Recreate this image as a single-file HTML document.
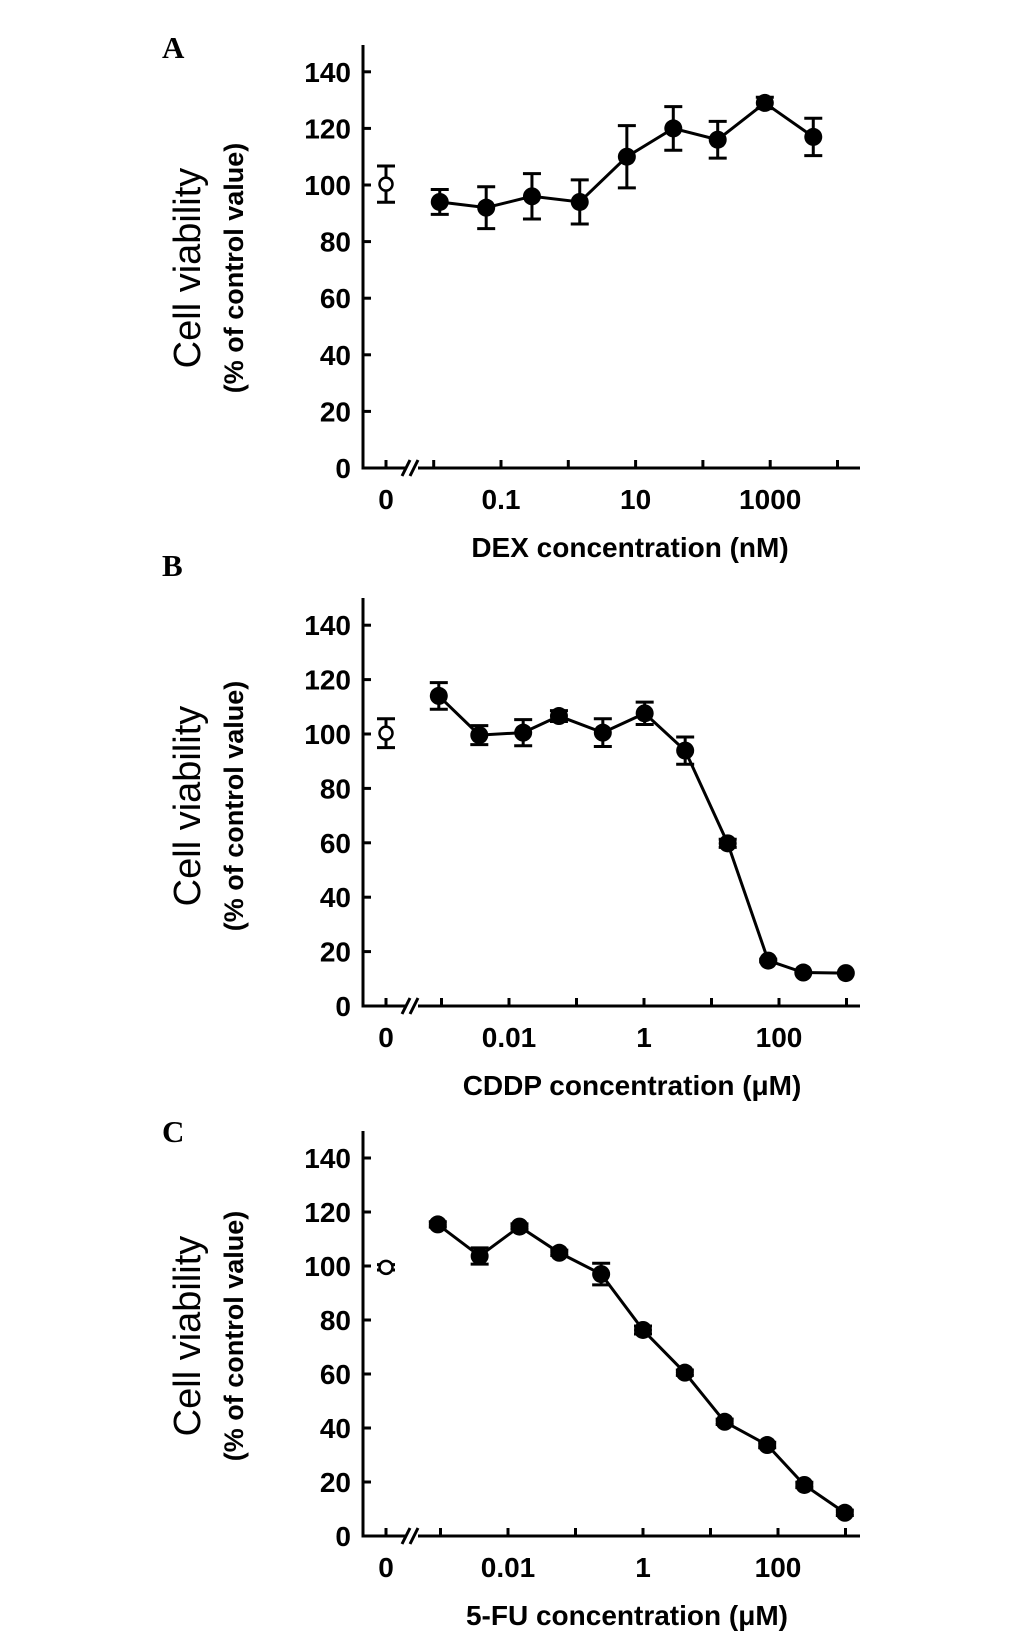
<!DOCTYPE html>
<html><head><meta charset="utf-8"><style>
html,body{margin:0;padding:0;background:#fff;}
svg{display:block;font-family:"Liberation Sans",Arial,sans-serif;}
</style></head><body>
<svg id="fig" width="1033" height="1637" viewBox="0 0 1033 1637" xmlns="http://www.w3.org/2000/svg"></svg>
<script>
// Panel A (DEX)
const dexLogConc = [-1.91, -1.22, -0.54, 0.17, 0.87, 1.56, 2.22, 2.92, 3.64];
const dexValues = [94, 92, 96, 94, 110, 120, 116, 129, 117];
const dexErrors = [4.4, 7.4, 8, 7.8, 11, 7.7, 6.5, 2, 6.6];
const dexControl = [100.3, 6.4];
const dexTickLabels = ["0.1", "10", "1000"];
const dexTickLogs = [-1, 1, 3];
// Panel B (CDDP)
const cddpLogConc = [-3.04, -2.44, -1.79, -1.26, -0.61, 0.01, 0.61, 1.24, 1.84, 2.36, 2.99];
const cddpValues = [114, 99.6, 100.5, 106.6, 100.5, 107.6, 93.9, 59.8, 16.7, 12.3, 12.1];
const cddpErrors = [4.9, 3.5, 4.8, 2, 5.1, 4.1, 5, 1.5, 0.5, 0, 0];
const cddpControl = [100.3, 5.3];
const cddpTickLabels = ["0.01", "1", "100"];
const cddpTickLogs = [-2, 0, 2];
// Panel C (5-FU)
const fuLogConc = [-3.04, -2.42, -1.83, -1.24, -0.62, 0, 0.62, 1.21, 1.84, 2.39, 2.99];
const fuValues = [115.4, 103.7, 114.6, 104.9, 97, 76.3, 60.5, 42.3, 33.7, 18.9, 8.6];
const fuErrors = [1, 3, 1, 1, 4, 1.5, 1, 1, 1, 1, 1];
const fuControl = [99.5, 1];
const fuTickLabels = ["0.01", "1", "100"];
const fuTickLogs = [-2, 0, 2];
const yTickValues = [0, 20, 40, 60, 80, 100, 120, 140];

const NS = "http://www.w3.org/2000/svg";
const svg = document.getElementById("fig");
function mk(tag, attrs, parent, text) {
  const e = document.createElementNS(NS, tag);
  for (const k in attrs) e.setAttribute(k, attrs[k]);
  if (text !== undefined) e.textContent = text;
  (parent || svg).appendChild(e);
  return e;
}

function panel(cfg, logs, vals, errs, ctrl, tLabels, tLogs) {
  const g = mk("g", {});
  
  
  const ax = 363, x0 = 386, xEnd = 860;
  const y = v => cfg.y0 - v * cfg.ppu;
  const x = l => cfg.xRef + (l - cfg.lRef) * cfg.dec;
  const L = mk("text", {x: 162, y: cfg.letterY, "font-family": "'Liberation Serif',serif", "font-weight": "bold", "font-size": 31}, g, cfg.letter);
  
  
  const ya = mk("line", {x1: ax, y1: cfg.top, x2: ax, y2: cfg.y0 + 1.5, stroke: "#000", "stroke-width": 3}, g);
  
  
  yTickValues.forEach(v => {
    const t = mk("line", {x1: ax, y1: y(v), x2: ax + 8, y2: y(v), stroke: "#000", "stroke-width": 3}, g);
    
    
    const tl = mk("text", {x: 351, y: y(v) + 10, "text-anchor": "end", "font-size": 28, "font-weight": "bold"}, g, String(v));
    
    
  });
  const brk = 412;
  const xa1 = mk("line", {x1: ax - 1.5, y1: cfg.y0, x2: brk - 6, y2: cfg.y0, stroke: "#000", "stroke-width": 3}, g);
  
  
  const xa2 = mk("line", {x1: brk + 6, y1: cfg.y0, x2: xEnd, y2: cfg.y0, stroke: "#000", "stroke-width": 3}, g);
  
  
  [-6, 2].forEach(d => {
    const b = mk("line", {x1: brk + d - 4, y1: cfg.y0 + 8, x2: brk + d + 4, y2: cfg.y0 - 8, stroke: "#000", "stroke-width": 3}, g);
    
    
  });
  const xt = [x0];
  for (let l = cfg.firstDec; x(l) < xEnd - 5; l++) xt.push(x(l));
  xt.forEach(px => {
    const t = mk("line", {x1: px, y1: cfg.y0, x2: px, y2: cfg.y0 - 8, stroke: "#000", "stroke-width": 3}, g);
    
    
  });
  const z = mk("text", {x: x0, y: cfg.y0 + 41, "text-anchor": "middle", "font-size": 28, "font-weight": "bold"}, g, "0");
  
  
  tLabels.forEach((s, i) => {
    const t = mk("text", {x: x(tLogs[i]), y: cfg.y0 + 41, "text-anchor": "middle", "font-size": 28, "font-weight": "bold"}, g, s);
    
    
  });
  const xtl = mk("text", {x: cfg.xtX, y: cfg.y0 + 89, "text-anchor": "middle", "font-size": 28, "font-weight": "bold"}, g, cfg.xTitle);
  
  
  const cy = cfg.y0 - 200;
  const yt1 = mk("text", {x: 0, y: 0, "text-anchor": "middle", "font-size": 38, transform: `translate(200,${cy}) rotate(-90)`}, g, "Cell viability");
  
  
  const yt2 = mk("text", {x: 0, y: 0, "text-anchor": "middle", "font-size": 27, "font-weight": "bold", transform: `translate(243,${cy}) rotate(-90)`}, g, "(% of control value)");
  
  
  const pts = logs.map((l, i) => x(l) + "," + y(vals[i])).join(" ");
  const pl = mk("polyline", {points: pts, fill: "none", stroke: "#000", "stroke-width": 3}, g);
  
  
  function errbar(px, v, e) {
    if (e <= 0.2) return;
    const eg = mk("path", {d: `M${px},${y(v + e)}V${y(v - e)}M${px - 9},${y(v + e)}H${px + 9}M${px - 9},${y(v - e)}H${px + 9}`, stroke: "#000", "stroke-width": 3, fill: "none"}, g);
    
    
  }
  logs.forEach((l, i) => {
    errbar(x(l), vals[i], errs[i]);
    const c = mk("circle", {cx: x(l), cy: y(vals[i]), r: 9, fill: "#000"}, g);
    
    
  });
  errbar(x0, ctrl[0], ctrl[1]);
  const cc = mk("circle", {cx: x0, cy: y(ctrl[0]), r: 6.5, fill: "#fff", stroke: "#000", "stroke-width": 2.5}, g);
  
  
}

panel({name: "panel-a-dex", letter: "A", letterY: 58, top: 45, y0: 468, ppu: 2.83, xRef: 501, lRef: -1, dec: 67.3, firstDec: -2, xtX: 630, xTitle: "DEX concentration (nM)"},
  dexLogConc, dexValues, dexErrors, dexControl, dexTickLabels, dexTickLogs);
panel({name: "panel-b-cddp", letter: "B", letterY: 576, top: 598, y0: 1006, ppu: 2.72, xRef: 644, lRef: 0, dec: 67.5, firstDec: -3, xtX: 632, xTitle: "CDDP concentration  (\u03bcM)"},
  cddpLogConc, cddpValues, cddpErrors, cddpControl, cddpTickLabels, cddpTickLogs);
panel({name: "panel-c-5fu", letter: "C", letterY: 1142, top: 1131, y0: 1536, ppu: 2.7, xRef: 643, lRef: 0, dec: 67.5, firstDec: -3, xtX: 627, xTitle: "5-FU concentration  (\u03bcM)"},
  fuLogConc, fuValues, fuErrors, fuControl, fuTickLabels, fuTickLogs);
</script>
</body></html>
